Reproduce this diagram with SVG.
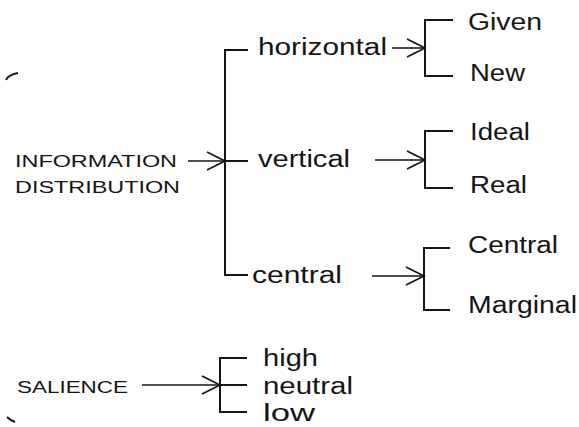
<svg xmlns="http://www.w3.org/2000/svg" width="579" height="427" viewBox="0 0 579 427">
<style>
text{font-family:"Liberation Sans",Arial,sans-serif;fill:#151515}
.m{font-size:23px}
.s{font-size:16px}
.ln{fill:none;stroke:#151515;stroke-width:2}
.ar{fill:none;stroke:#151515;stroke-width:1.7}
</style>
<defs>
<marker id="ch" viewBox="-20 -11 22 22" markerWidth="22" markerHeight="22" refX="0" refY="0" orient="auto" markerUnits="userSpaceOnUse">
<path d="M-18,-9 L0,0 L-18,9" fill="none" stroke="#151515" stroke-width="1.7"/>
</marker>
</defs>
<rect width="579" height="427" fill="#ffffff"/>
<g id="n-info"><text class="s" x="15" y="167" textLength="162" lengthAdjust="spacingAndGlyphs">INFORMATION</text><text class="s" x="15" y="193" textLength="165" lengthAdjust="spacingAndGlyphs">DISTRIBUTION</text></g>
<g id="n-horizontal"><text class="m" x="258" y="55" textLength="129" lengthAdjust="spacingAndGlyphs">horizontal</text></g>
<g id="n-vertical"><text class="m" x="258" y="167" textLength="92" lengthAdjust="spacingAndGlyphs">vertical</text></g>
<g id="n-central"><text class="m" x="252" y="283" textLength="90" lengthAdjust="spacingAndGlyphs">central</text></g>
<g id="n-given"><text class="m" x="468" y="30" textLength="74" lengthAdjust="spacingAndGlyphs">Given</text></g>
<g id="n-new"><text class="m" x="470" y="81" textLength="55" lengthAdjust="spacingAndGlyphs">New</text></g>
<g id="n-ideal"><text class="m" x="470" y="140" textLength="60" lengthAdjust="spacingAndGlyphs">Ideal</text></g>
<g id="n-real"><text class="m" x="470" y="193" textLength="57" lengthAdjust="spacingAndGlyphs">Real</text></g>
<g id="n-central2"><text class="m" x="468" y="253" textLength="90" lengthAdjust="spacingAndGlyphs">Central</text></g>
<g id="n-marginal"><text class="m" x="468" y="313" textLength="109" lengthAdjust="spacingAndGlyphs">Marginal</text></g>
<g id="n-salience"><text class="s" x="17" y="393" textLength="111" lengthAdjust="spacingAndGlyphs">SALIENCE</text></g>
<g id="n-high"><text class="m" x="263" y="366" textLength="55" lengthAdjust="spacingAndGlyphs">high</text></g>
<g id="n-neutral"><text class="m" x="263" y="394" textLength="90" lengthAdjust="spacingAndGlyphs">neutral</text></g>
<g id="n-low"><text class="m" x="263" y="421" textLength="52" lengthAdjust="spacingAndGlyphs">low</text></g>
<g id="connectors">
<path class="ln" d="M248,50 H225 V275 H248 M225,161 H248"/>
<path class="ar" d="M188,161 H225" marker-end="url(#ch)"/>
<path class="ln" d="M453,20 H425 V76 H453"/>
<path class="ar" d="M392,48 H425" marker-end="url(#ch)"/>
<path class="ln" d="M453,131 H425 V188 H453"/>
<path class="ar" d="M375,160 H425" marker-end="url(#ch)"/>
<path class="ln" d="M450,248 H424 V310 H450"/>
<path class="ar" d="M372,276 H424" marker-end="url(#ch)"/>
<path class="ln" d="M247,358 H220 V412 H247 M220,385 H247"/>
<path class="ar" d="M142,385 H220" marker-end="url(#ch)"/>
</g>
<g id="marks">
<path d="M6,80 Q8,75 18,73" fill="none" stroke="#151515" stroke-width="2"/>
<path d="M7,417 Q10,420 15,422" fill="none" stroke="#151515" stroke-width="2"/>
</g>
</svg>
